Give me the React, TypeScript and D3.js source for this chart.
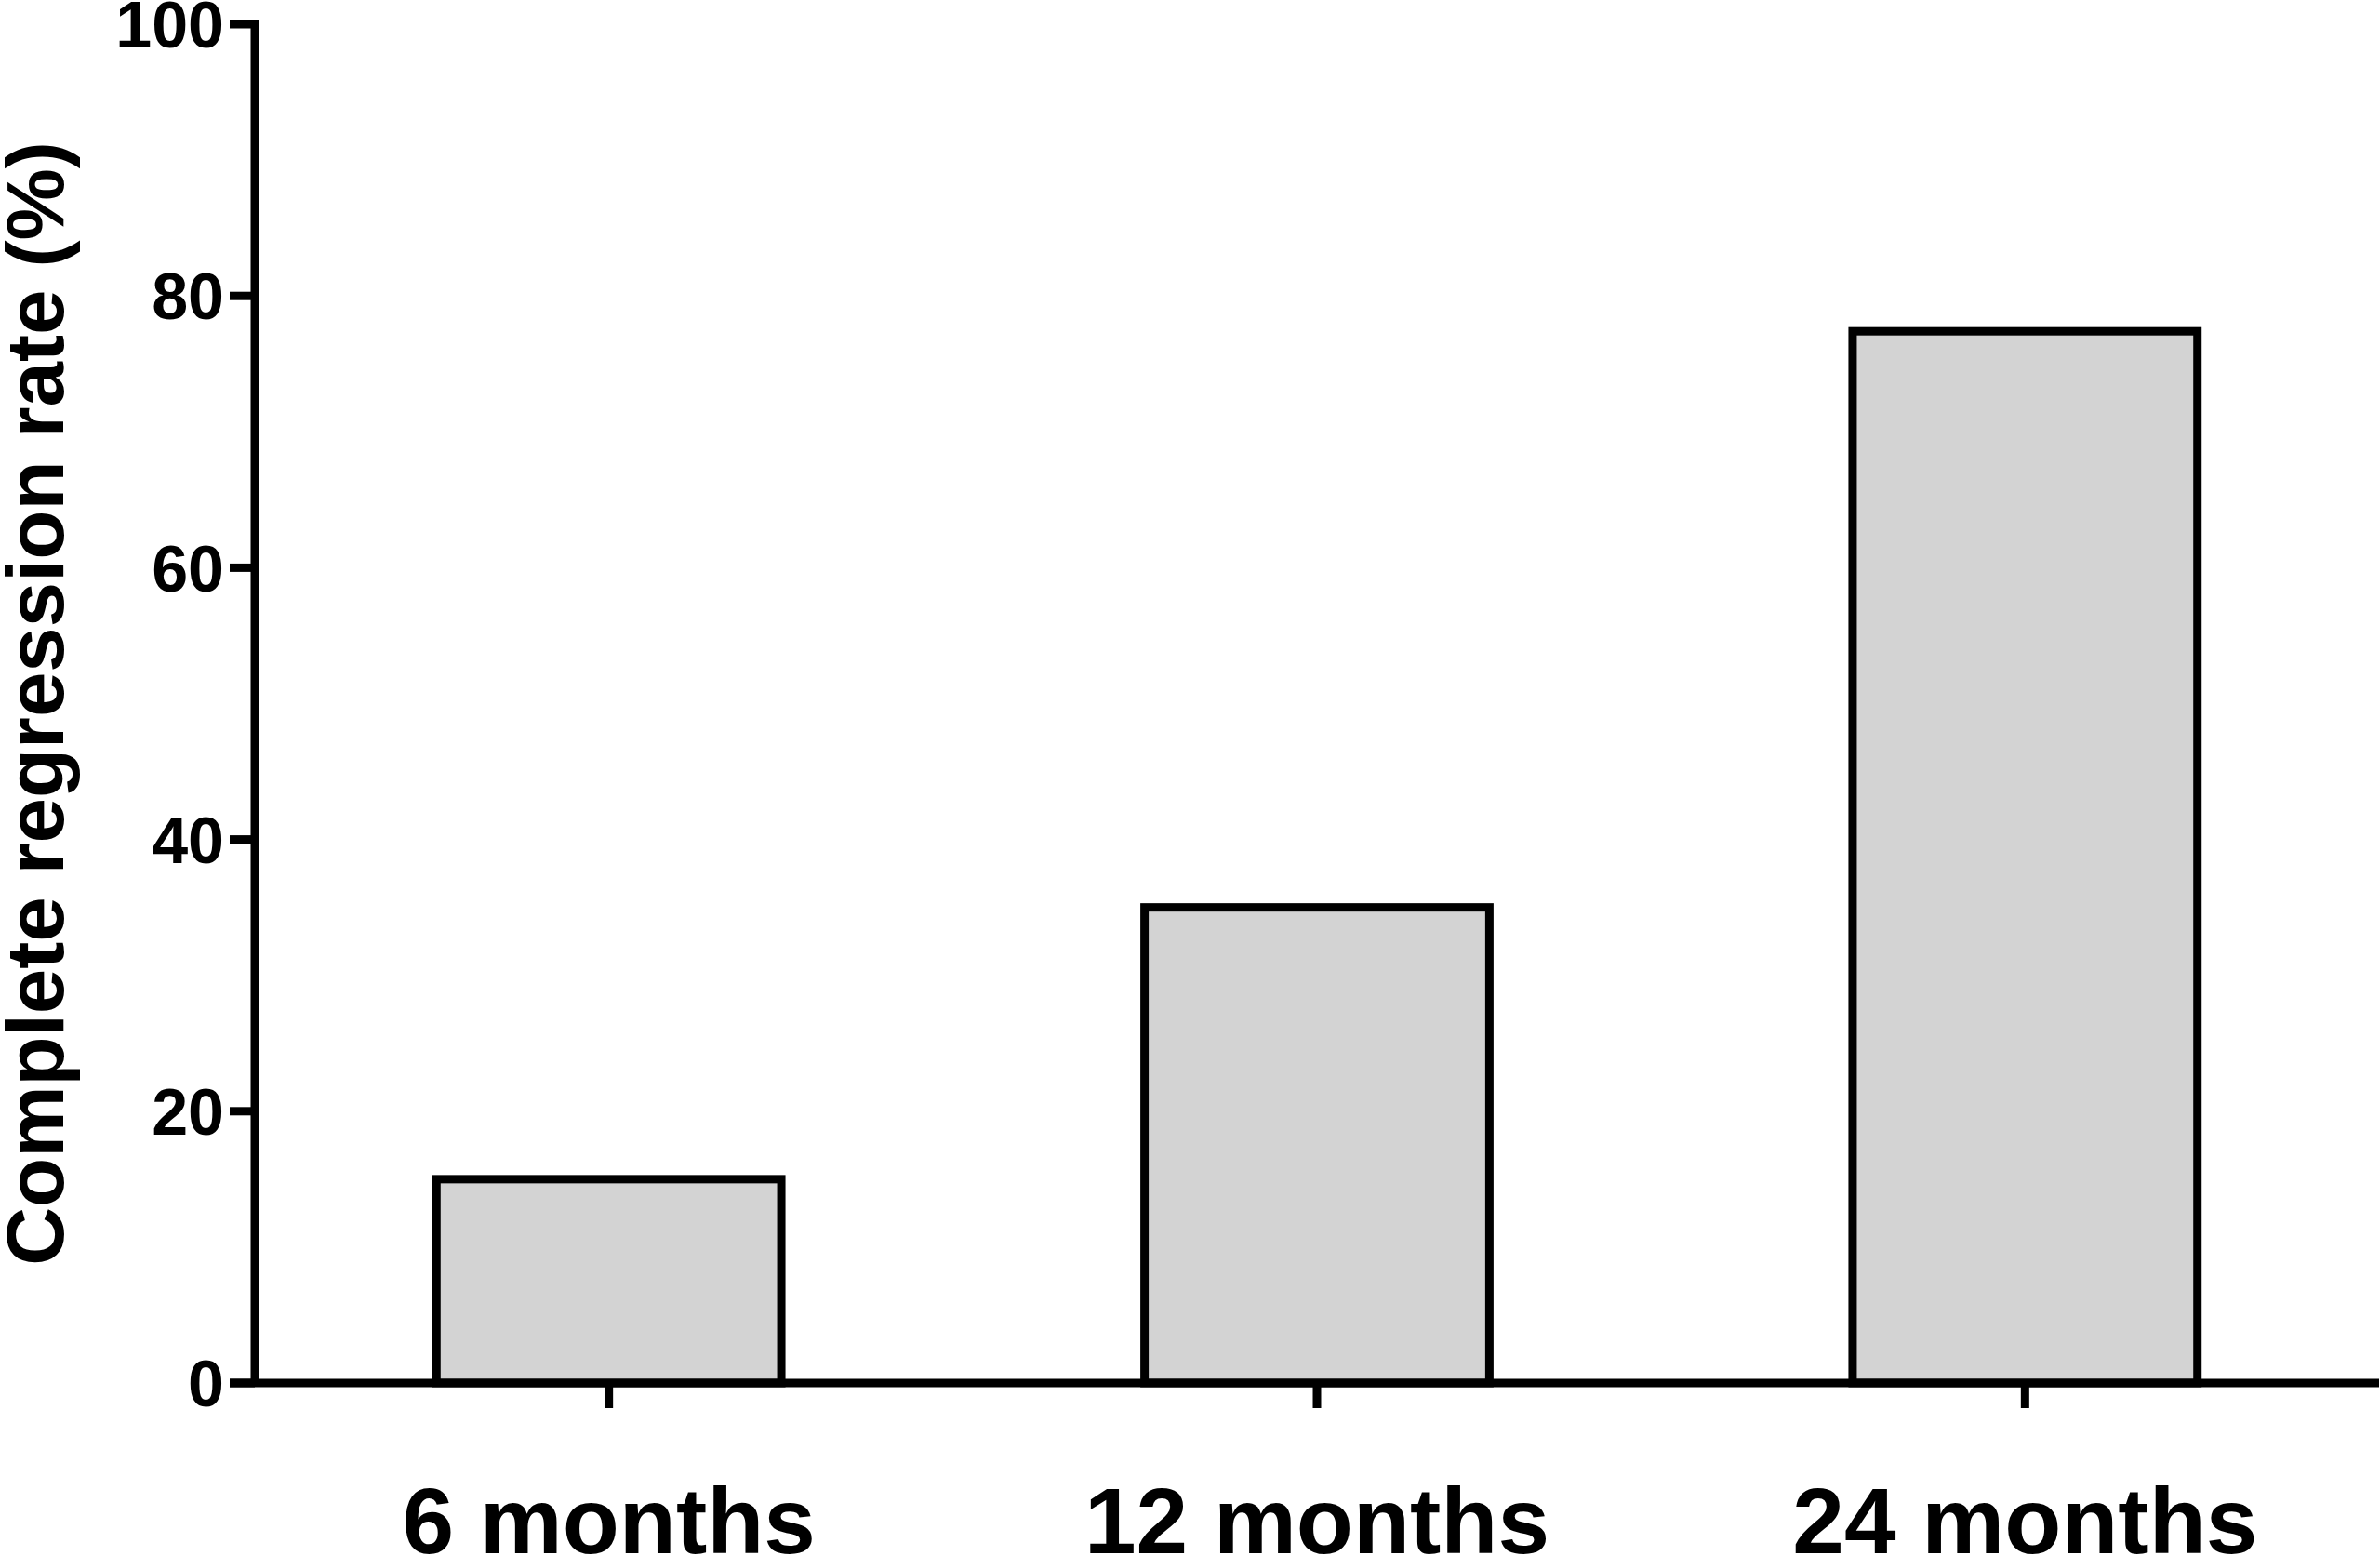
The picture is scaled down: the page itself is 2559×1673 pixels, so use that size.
import * as d3 from "d3";

const categories = ["6 months", "12 months", "24 months"];
const rates = [15, 35, 77.4];
const yTicks = [0, 20, 40, 60, 80, 100];

const W = 2559;
const H = 1673;
const FONT = "'Liberation Sans', Arial, Helvetica, sans-serif";

export default function App() {
  const x = d3
    .scaleBand<string>()
    .domain(categories)
    .range([274, 2558])
    .paddingInner(0.513)
    .paddingOuter(0.2565);
  const y = d3.scaleLinear().domain([0, 100]).range([1487, 26]);

  const x0 = x.range()[0];
  const sw = 9;
  const tick = 27;

  return (
    <svg
      width={W}
      height={H}
      style={{ position: "absolute", left: 0, top: 0, background: "#fff" }}
    >
      {/* bars */}
      {categories.map((c, i) => (
        <rect
          key={c}
          x={x(c)}
          y={y(rates[i])}
          width={x.bandwidth()}
          height={y(0) - y(rates[i])}
          fill="#d3d3d3"
          stroke="#000"
          strokeWidth={sw}
        />
      ))}

      {/* y axis */}
      <line x1={x0} x2={x0} y1={y(100) - sw / 2} y2={y(0)} stroke="#000" strokeWidth={sw} />
      {yTicks.map((t) => (
        <g key={t}>
          <line x1={x0 - tick} x2={x0} y1={y(t)} y2={y(t)} stroke="#000" strokeWidth={sw} />
          <text
            x={241}
            y={y(t)}
            dy="0.36em"
            textAnchor="end"
            fontFamily={FONT}
            fontWeight="bold"
            fontSize={70}
          >
            {t}
          </text>
        </g>
      ))}

      {/* x axis */}
      <line x1={x0 - tick} x2={x.range()[1]} y1={y(0)} y2={y(0)} stroke="#000" strokeWidth={sw} />
      {categories.map((c) => {
        const cx = x(c)! + x.bandwidth() / 2;
        return (
          <g key={c}>
            <line x1={cx} x2={cx} y1={y(0)} y2={y(0) + tick} stroke="#000" strokeWidth={sw} />
            <text
              x={cx}
              y={1670}
              textAnchor="middle"
              fontFamily={FONT}
              fontWeight="bold"
              fontSize={100}
            >
              {c}
            </text>
          </g>
        );
      })}

      {/* y title */}
      <text
        transform={`translate(68, ${(y(0) + y(100)) / 2}) rotate(-90)`}
        textAnchor="middle"
        fontFamily={FONT}
        fontWeight="bold"
        fontSize={87}
      >
        Complete regression rate (%)
      </text>
    </svg>
  );
}
